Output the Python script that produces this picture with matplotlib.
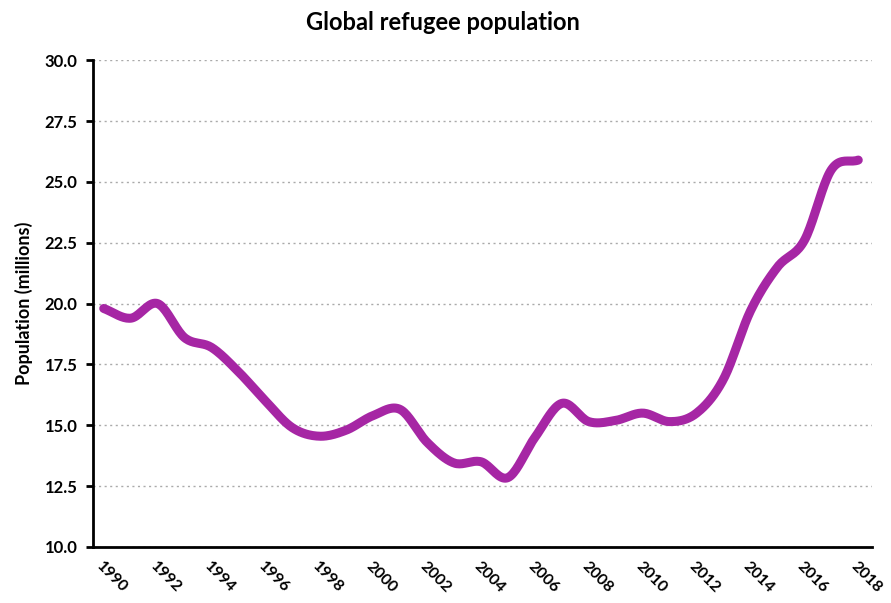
import matplotlib
import numpy as np

matplotlib.use('Agg')

import matplotlib.pyplot as plt

years = [1990, 1991, 1992, 1993, 1994, 1995, 1996, 1997, 1998, 1999,
         2000, 2001, 2002, 2003, 2004, 2005, 2006, 2007, 2008, 2009,
         2010, 2011, 2012, 2013, 2014, 2015, 2016, 2017, 2018]
refugees = [19.8, 19.4, 20.0, 18.6, 18.2, 17.2, 16.0, 14.9, 14.55, 14.8,
            15.4, 15.65, 14.3, 13.45, 13.5, 12.85, 14.5, 15.9, 15.15, 15.2,
            15.5, 15.15, 15.5, 16.9, 19.7, 21.5, 22.6, 25.5, 25.9]
ytick_vals = [10.0, 12.5, 15.0, 17.5, 20.0, 22.5, 25.0, 27.5, 30.0]
xtick_vals = years[::2]


def smooth(x, y, n=20):
    # catmull-rom curve through the points, like a smoothed spreadsheet line
    x = np.asarray(x, float)
    y = np.asarray(y, float)
    px = np.concatenate([[2 * x[0] - x[1]], x, [2 * x[-1] - x[-2]]])
    py = np.concatenate([[2 * y[0] - y[1]], y, [2 * y[-1] - y[-2]]])
    t = np.linspace(0, 1, n, endpoint=False)
    xs, ys = [], []
    for i in range(1, len(px) - 2):
        for p, out in ((px, xs), (py, ys)):
            p0, p1, p2, p3 = p[i - 1], p[i], p[i + 1], p[i + 2]
            out.extend(0.5 * (2 * p1 + (-p0 + p2) * t
                              + (2 * p0 - 5 * p1 + 4 * p2 - p3) * t ** 2
                              + (-p0 + 3 * p1 - 3 * p2 + p3) * t ** 3))
    xs.append(x[-1])
    ys.append(y[-1])
    return xs, ys


def plot_refugees():
    plt.rcParams['font.family'] = ['Lato', 'DejaVu Sans']
    fig = plt.figure(figsize=(8.91, 6.03), dpi=100)
    ax = fig.add_axes([0.104, 0.093, 0.875, 0.807])

    sx, sy = smooth(years, refugees)
    ax.plot(sx, sy, color='#A626A4', lw=6.5, solid_capstyle='round', zorder=3)

    ax.set_xlim(1989.59, 2018.52)
    ax.set_ylim(10, 30)
    ax.set_yticks(ytick_vals)
    ax.set_yticklabels(['%.1f' % v for v in ytick_vals], fontsize=12, fontweight='bold')
    ax.set_xticks(xtick_vals)
    ax.set_xticklabels([str(v) for v in xtick_vals], fontsize=11.5, fontweight='bold',
                       rotation=-45, ha='left', va='top', rotation_mode='anchor')
    ax.tick_params(axis='x', length=0, pad=9)
    ax.tick_params(axis='y', length=5, width=2, pad=6)

    ax.grid(axis='y', linestyle=(0, (1.5, 2.5)), color='#aaaaaa', lw=1)
    ax.set_axisbelow(True)
    for s in ['top', 'right']:
        ax.spines[s].set_visible(False)
    for s in ['left', 'bottom']:
        ax.spines[s].set_linewidth(2)

    ax.set_ylabel('Population (millions)', fontsize=13, fontweight='bold', labelpad=8)
    fig.text(0.497, 0.962, 'Global refugee population', fontsize=17,
             fontweight='bold', ha='center', va='center')

    plt.savefig('out.png', dpi=100)


if __name__ == '__main__':
    plot_refugees()
